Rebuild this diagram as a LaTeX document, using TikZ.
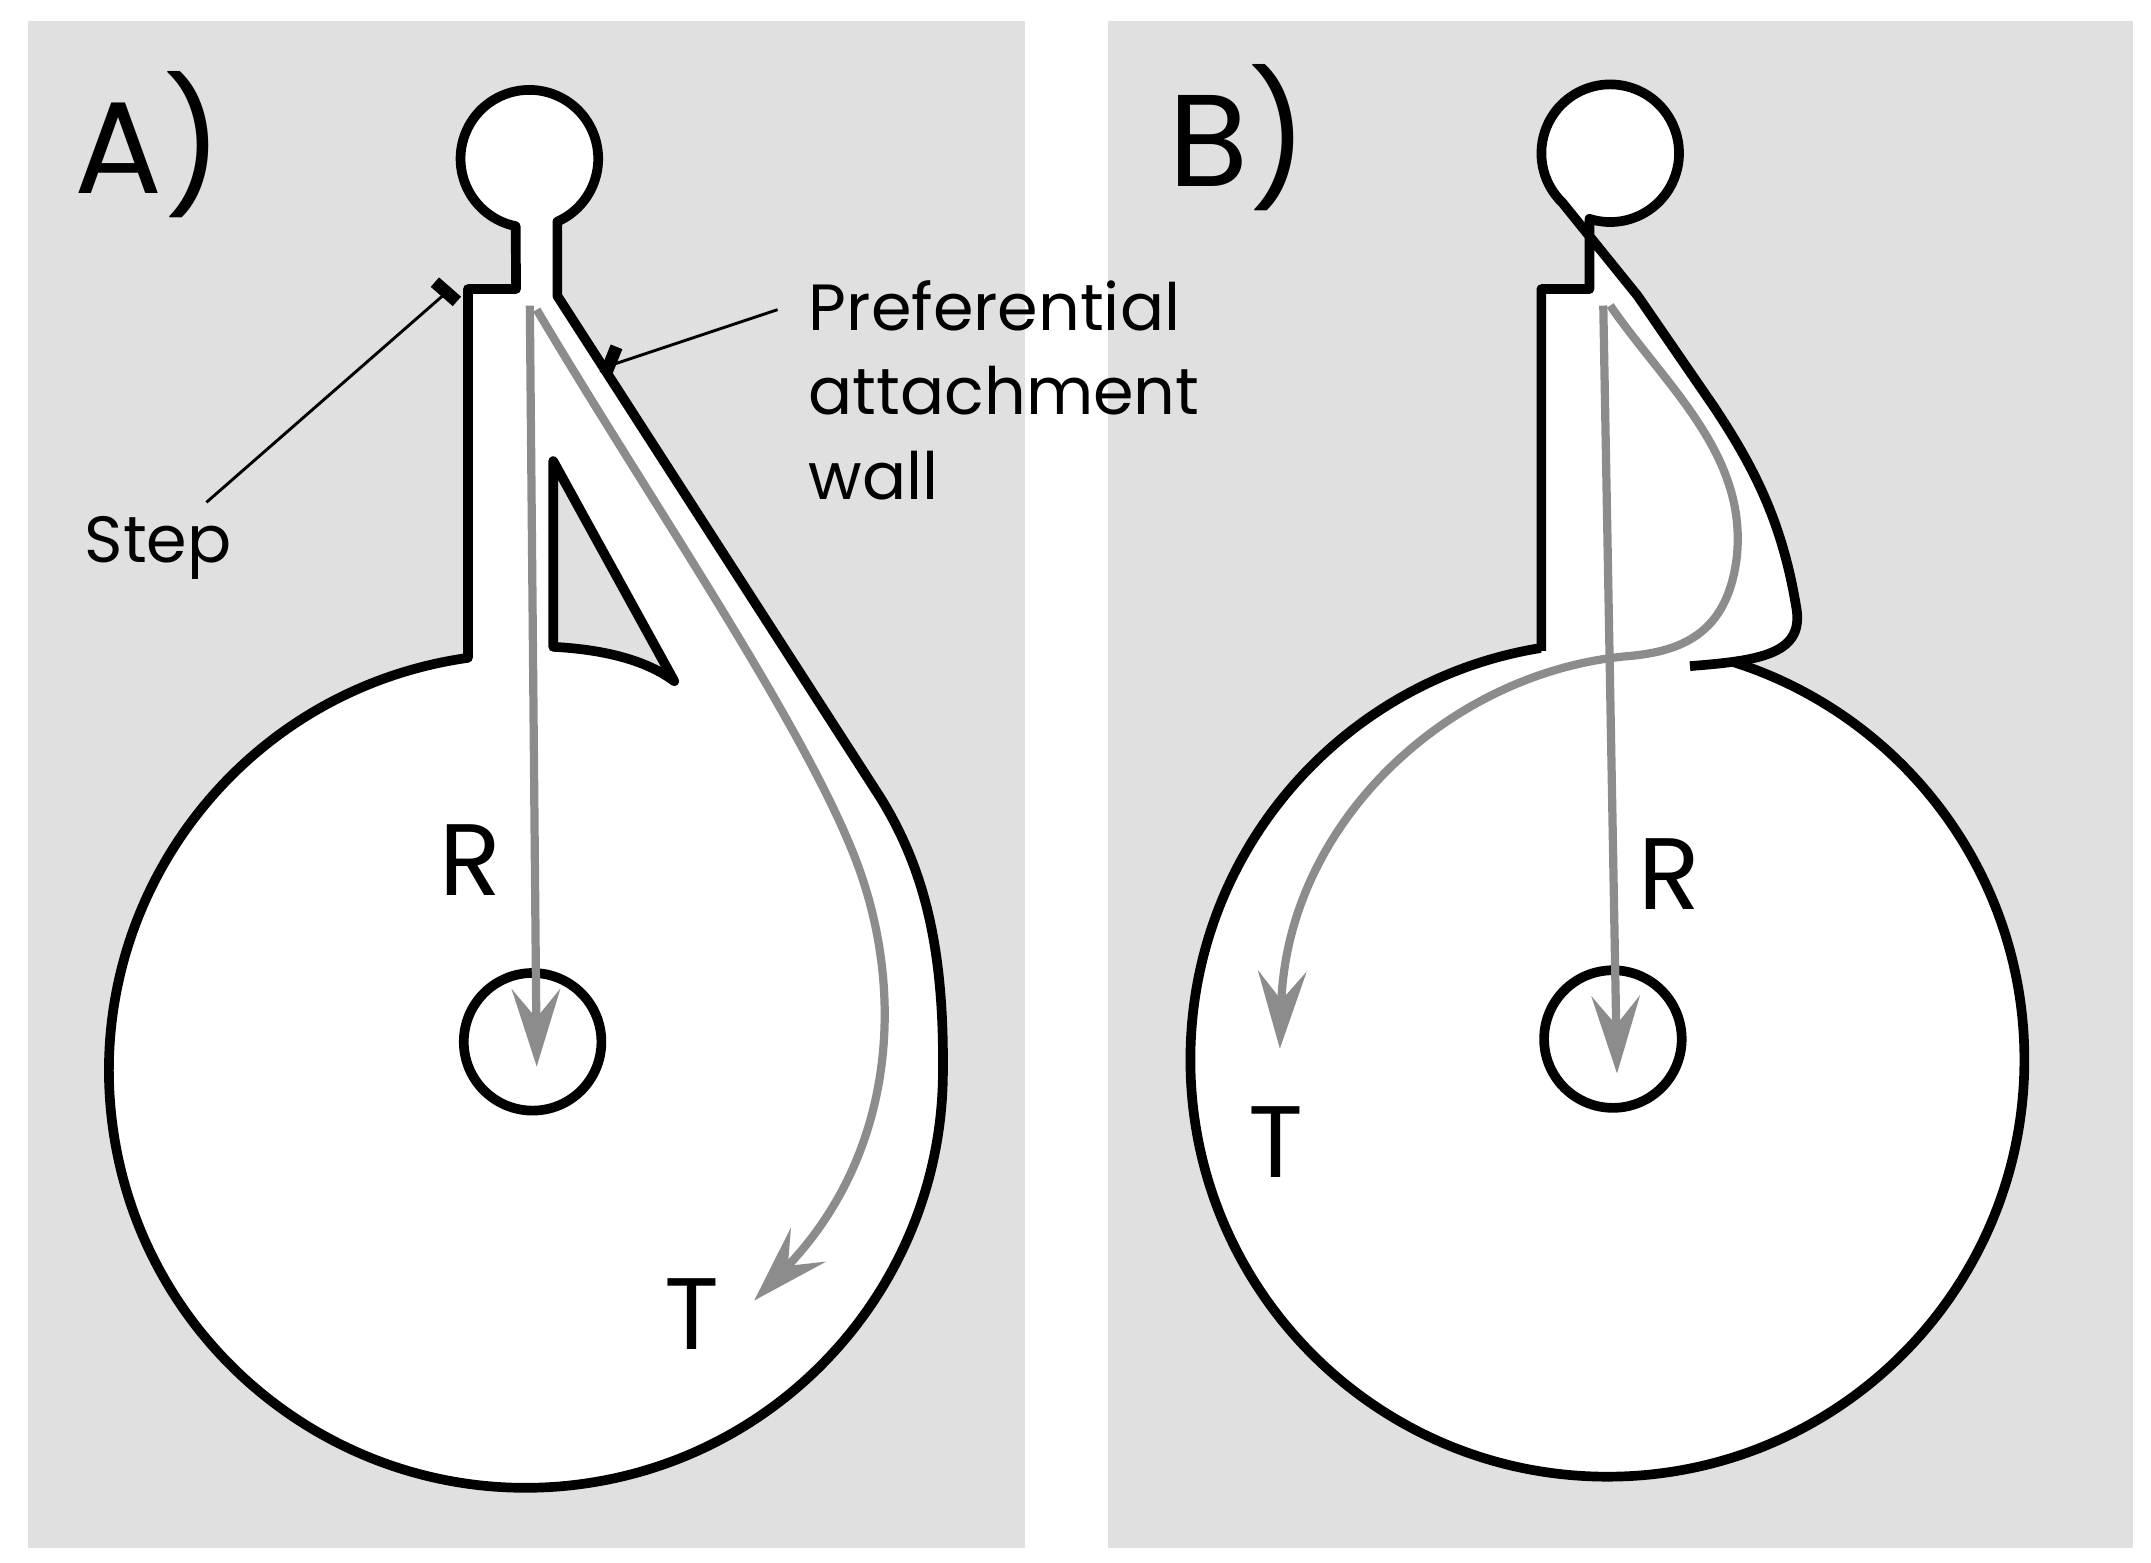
\documentclass[tikz,border=0pt]{standalone}
\usepackage{fontspec}
\setmainfont{Poppins}
\usetikzlibrary{arrows.meta}
\definecolor{bg}{gray}{0.88}
\definecolor{arr}{gray}{0.55}
\begin{document}
\begin{tikzpicture}[x=0.01cm,y=-0.01cm,
  outline/.style={line width=2pt,line join=round,fill=white},
  wall/.style={line width=2pt,line join=round},
  garrow/.style={draw=arr,line width=1.7pt,-{Stealth[length=16pt,width=10pt,inset=6pt]}},
  lead/.style={line width=0.6pt},
  tick/.style={line width=2.6pt},
  big/.style={font=\fontsize{27}{32}\selectfont},
  lab/.style={font=\fontsize{21}{26}\selectfont},
  small/.style={font=\fontsize{13.5}{17.5}\selectfont,align=left}]
\useasboundingbox (0,0) rectangle (1563,1135);
\fill[white] (0,0) rectangle (1563,1135);
\fill[bg] (20,15) rectangle (745,1125);
\fill[bg] (805,15) rectangle (1550,1125);
% Panel A
\draw[outline] (340,478) arc[start angle=262,end angle=0,radius=303]
  .. controls (686,690) and (672,632) .. (640,580) -- (405,215) -- (405,161)
  arc[start angle=66,end angle=-258.5,radius=50] -- (375,210) -- (340,210) -- cycle;
\draw[outline,fill=bg] (402,335) -- (402,470) .. controls (440,472) and (470,480) .. (490,495) -- cycle;
\coordinate (hubA) at (387,757);
\draw[line width=2pt] (hubA) circle[radius=50];
\coordinate (rA0) at (385,222); \coordinate (rA1) at (390,775);
\draw[garrow] (rA0) -- (rA1);
\coordinate (tA0) at (390,225); \coordinate (tA1) at (548,945);
\draw[garrow] (tA0) .. controls (470,360) and (580,520) .. (620,620) .. controls (660,720) and (650,840) .. (tA1);
\node[big] (labA) at (108,105) {A)};
\node[lab] (rA) at (342,625) {R};
\node[lab] (tA) at (503,955) {T};
\node[small] (step) at (115,398) {Step};
\coordinate (stepTick) at (325,212);
\draw[lead] (150,365) -- (stepTick);
\draw[tick] (316,205) -- (332,219);
\node[small,anchor=north west,inner sep=0] (pref) at (587,203) {Preferential\\attachment\\wall};
\coordinate (wallTick) at (445,265);
\draw[lead] (565,225) -- (wallTick);
\draw[tick] (448,252) -- (440,272);
% Panel B
\coordinate (bigB) at (1168,770);
\draw[outline] (bigB) circle[radius=303];
\fill[white] (1120,473) -- (1120,210) -- (1155,210) -- (1155,159)
  arc[start angle=107.5,end angle=-226,radius=50] -- (1190,215) -- (1245,295)
  .. controls (1275,340) and (1295,380) .. (1305,440)
  .. controls (1312,475) and (1280,480) .. (1228,484) -- (1228,505) -- (1120,505) -- cycle;
\draw[wall] (1120,473) -- (1120,210) -- (1155,210) -- (1155,159)
  arc[start angle=107.5,end angle=-226,radius=50] -- (1190,215) -- (1245,295)
  .. controls (1275,340) and (1295,380) .. (1305,440)
  .. controls (1312,475) and (1280,480) .. (1228,484);
\coordinate (hubB) at (1172,755);
\draw[line width=2pt] (hubB) circle[radius=50];
\coordinate (rB0) at (1165,222); \coordinate (rB1) at (1175,780);
\draw[garrow] (rB0) -- (rB1);
\coordinate (tB0) at (1170,222); \coordinate (tB1) at (930,762);
\draw[garrow] (tB0) .. controls (1210,280) and (1270,330) .. (1262,405)
  .. controls (1255,462) and (1220,474) .. (1180,477)
  .. controls (1050,490) and (935,600) .. (tB1);
\node[big] (labB) at (900,100) {B)};
\node[lab] (rB) at (1213,635) {R};
\node[lab] (tB) at (927,830) {T};
\end{tikzpicture}
\end{document}
